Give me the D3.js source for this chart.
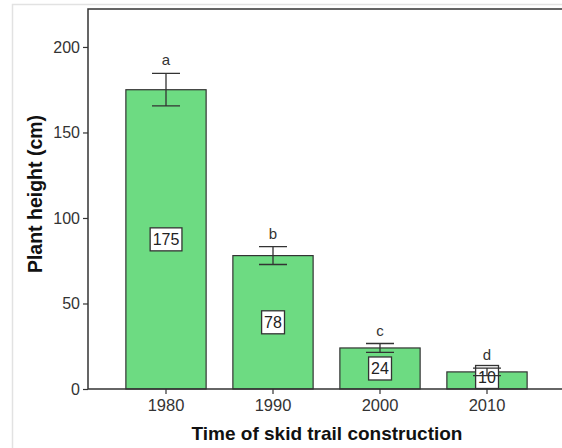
<!DOCTYPE html>
<html>
<head>
<meta charset="utf-8">
<script src="https://cdn.jsdelivr.net/npm/d3@7"></script>
<style>
  body { margin: 0; background: #fff; }
  svg { font-family: "Liberation Sans", Arial, sans-serif; }
</style>
</head>
<body>
<div id="chart"></div>
<script>
(function () {
// data
const years = ["1980", "1990", "2000", "2010"];
const heights = [175, 78, 24, 10];
const errors = [9.5, 5.2, 2.6, 2.2];
const letters = ["a", "b", "c", "d"];
const yTicks = [0, 50, 100, 150, 200];

const svgWidth = 562;
const svgHeight = 448;

const svg = d3.select("#chart")
  .append("svg")
  .attr("width", svgWidth)
  .attr("height", svgHeight);

// faint outer border
svg.append("path")
  .attr("d", "M12.5,448 V4.5 H562")
  .attr("fill", "none")
  .attr("stroke", "#e2e2e2")
  .attr("stroke-width", 1.5);

// plot area
const left = 88, top = 9, bottom = 389, right = 562;

const x = d3.scaleBand()
  .domain(years)
  .range([112.5, 540.5])
  .paddingInner(0.25)
  .paddingOuter(0.125);

const y = d3.scaleLinear()
  .domain([0, 222.2])
  .range([bottom, top]);

// frame (top and left)
svg.append("path")
  .attr("d", `M${right},${top} H${left} V${bottom}`)
  .attr("fill", "none")
  .attr("stroke", "#333")
  .attr("stroke-width", 1.5);

// bars
svg.selectAll("rect.bar")
  .data(heights)
  .join("rect")
  .attr("class", "bar")
  .attr("x", (d, i) => x(years[i]))
  .attr("y", d => y(d))
  .attr("width", x.bandwidth())
  .attr("height", d => y(0) - y(d))
  .attr("fill", "#6ddb82")
  .attr("stroke", "#333")
  .attr("stroke-width", 1.2);

// y axis
const yAxis = svg.append("g")
  .attr("transform", `translate(${left},0)`)
  .call(d3.axisLeft(y).tickValues(yTicks).tickSize(5).tickPadding(3));
yAxis.select(".domain").remove();
yAxis.selectAll("line").attr("stroke", "#333").attr("stroke-width", 1.2);
yAxis.selectAll("text").attr("fill", "#333").style("font-size", "16px");

// x axis
const xAxis = svg.append("g")
  .attr("transform", `translate(0,${bottom})`)
  .call(d3.axisBottom(x).tickSize(5).tickPadding(5));
xAxis.select(".domain")
  .attr("d", `M${left},0 H${right}`)
  .attr("stroke", "#333")
  .attr("stroke-width", 1.5);
xAxis.selectAll("line").attr("stroke", "#333").attr("stroke-width", 1.2);
xAxis.selectAll("text").attr("fill", "#333").style("font-size", "16.5px");

const cx = i => x(years[i]) + x.bandwidth() / 2;

// value labels in boxes (drawn under the error bars)
const boxH = 23;
const labels = svg.selectAll("g.vlabel")
  .data(heights)
  .join("g")
  .attr("class", "vlabel")
  .attr("transform", (d, i) => {
    const cy = Math.min(y(d / 2), y(0) - boxH / 2 - 0.5);
    return `translate(${cx(i)},${cy})`;
  });

labels.append("text")
  .attr("text-anchor", "middle")
  .attr("dy", "0.36em")
  .attr("fill", "#222")
  .style("font-size", "16px")
  .text(d => d);

labels.each(function () {
  const g = d3.select(this);
  const bb = g.select("text").node().getBBox();
  g.insert("rect", "text")
    .attr("x", bb.x - 2.5)
    .attr("y", -boxH / 2)
    .attr("width", bb.width + 5)
    .attr("height", boxH)
    .attr("fill", "#fff")
    .attr("stroke", "#333")
    .attr("stroke-width", 1.3);
});

// error bars
const capW = 14;
const err = svg.append("g")
  .attr("stroke", "#333")
  .attr("stroke-width", 1.3)
  .attr("fill", "none");
heights.forEach((v, i) => {
  const yt = y(v + errors[i]);
  const yb = y(v - errors[i]);
  err.append("path")
    .attr("d", `M${cx(i)},${yt} V${yb} M${cx(i) - capW},${yt} H${cx(i) + capW} M${cx(i) - capW},${yb} H${cx(i) + capW}`);
});

// significance letters
svg.selectAll("text.letter")
  .data(letters)
  .join("text")
  .attr("class", "letter")
  .attr("x", (d, i) => cx(i))
  .attr("y", (d, i) => y(heights[i] + errors[i]) - 8)
  .attr("text-anchor", "middle")
  .attr("fill", "#333")
  .style("font-size", "15px")
  .text(d => d);

// axis titles
svg.append("text")
  .attr("x", 327)
  .attr("y", 440)
  .attr("text-anchor", "middle")
  .attr("fill", "#111")
  .style("font-size", "19px")
  .style("font-weight", "bold")
  .text("Time of skid trail construction");

svg.append("text")
  .attr("transform", "translate(42,194) rotate(-90)")
  .attr("text-anchor", "middle")
  .attr("fill", "#111")
  .style("font-size", "19.5px")
  .style("font-weight", "bold")
  .text("Plant height (cm)");
})();
</script>
</body>
</html>
